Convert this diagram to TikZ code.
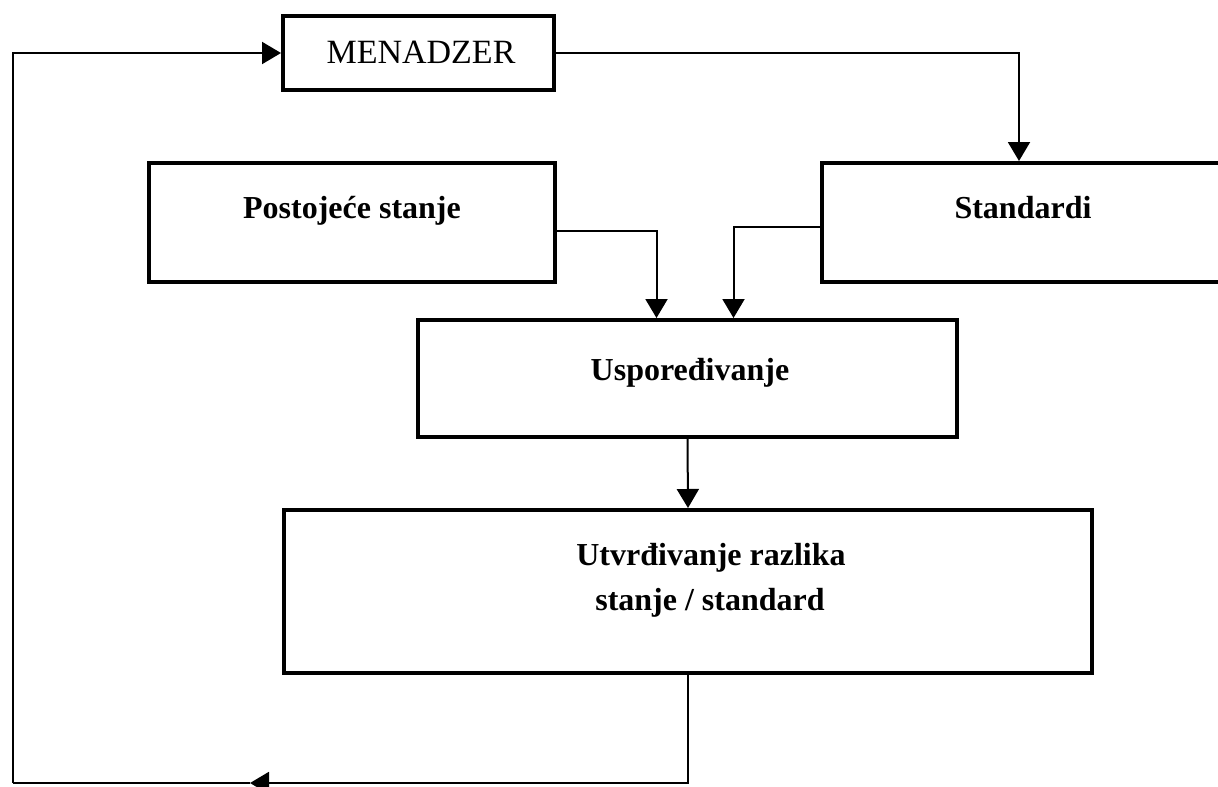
\documentclass[tikz,border=0pt]{standalone}
\usepackage{fontspec}
\setmainfont{Liberation Serif}
\usetikzlibrary{arrows.meta,positioning}

\tikzset{
	box/.style={draw, line width=4pt, inner sep=0pt},
	boxtext/.style={font=\fontsize{32}{38}\selectfont\bfseries, anchor=base},
	conn/.style={line width=2pt, -{Triangle[width=22pt,length=19pt]}},
	plainconn/.style={line width=2pt}
}

\begin{document}
\begin{tikzpicture}[x=1pt,y=-1pt]
			%%%%% START %%%%%
			\useasboundingbox (0,0) rectangle (1218,787);
			
			\node[box, minimum width=271pt, minimum height=74pt] (menadzer) at (418.5,53) {};
			\node[boxtext, font=\fontsize{34}{40}\selectfont] (tmenadzer) at (421,63) {MENADZER};
			
			\node[box, minimum width=406pt, minimum height=119pt] (postojece) at (352,222.5) {};
			\node[boxtext] (tpostojece) at (352,218) {Postojeće stanje};
			
			\node[box, minimum width=400pt, minimum height=119pt] (standardi) at (1022,222.5) {};
			\node[boxtext] (tstandardi) at (1023,218) {Standardi};
			
			\node[box, minimum width=539pt, minimum height=117pt] (usporedivanje) at (687.5,378.5) {};
			\node[boxtext] (tusporedivanje) at (690,380) {Uspoređivanje};
			
			\node[box, minimum width=808pt, minimum height=163pt] (utvrdivanje) at (688,591.5) {};
			\node[boxtext] (tutvrdivanje) at (711,565) {Utvrđivanje razlika};
			\node[boxtext] (tstanje) at (710,610) {stanje / standard};
			
			% veze
			\draw[conn] (menadzer.east) -| ([xshift=-3pt]standardi.north);
			\draw[conn] ([yshift=-8pt]postojece.east) -| ([xshift=-31pt]usporedivanje.north);
			\draw[conn] ([yshift=-4pt]standardi.west) -| ([xshift=46pt]usporedivanje.north);
			\draw[conn] (usporedivanje.south) -- (utvrdivanje.north);
			
			% povratna veza
			\coordinate (fbmid) at (250,783);
			\coordinate (fbcorner) at (13,783);
			\draw[conn] (utvrdivanje.south) |- (fbmid);
			\draw[plainconn] (fbmid) -- (fbcorner);
			\draw[conn] (fbcorner) |- (menadzer.west);
			%%%%% END %%%%%
\end{tikzpicture}
\end{document}
